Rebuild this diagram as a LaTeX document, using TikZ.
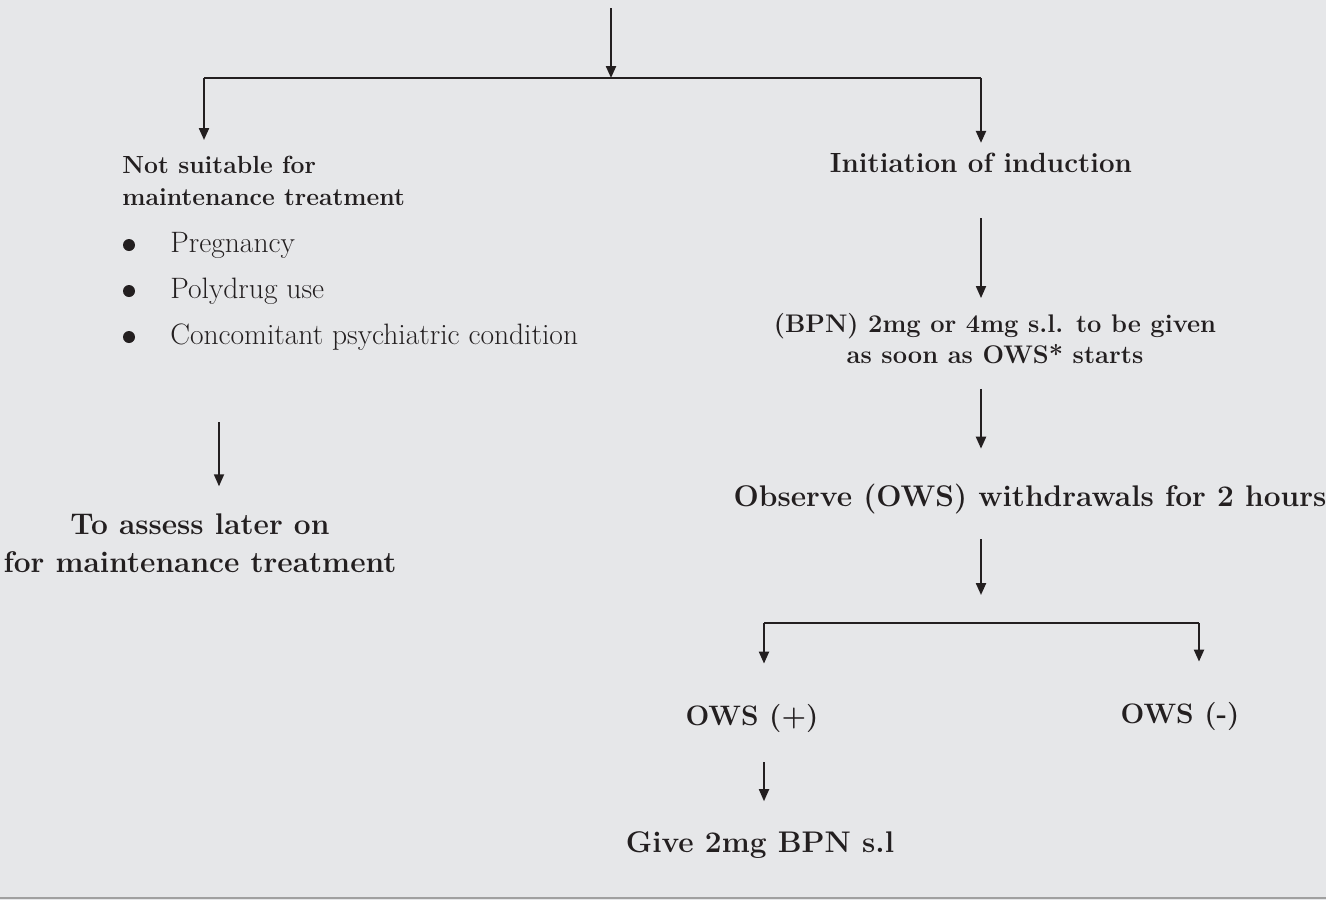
\documentclass[tikz,border=0pt]{standalone}
\usepackage{tikz}
\usetikzlibrary{positioning,arrows.meta}
\definecolor{panel}{RGB}{230,231,233}
\definecolor{ink}{RGB}{35,31,32}
\definecolor{rule}{RGB}{160,160,160}
\tikzset{head/.style={font=\fontsize{14.5}{17.5}\selectfont\bfseries,text=ink,inner sep=0pt,align=center}}
\tikzset{big/.style={font=\fontsize{17}{21.5}\selectfont\bfseries,text=ink,inner sep=0pt,align=center}}
\tikzset{item/.style={font=\fontsize{16.8}{18}\selectfont,text=ink,inner sep=0pt,anchor=base west}}
\tikzset{dot/.style={circle,fill=ink,inner sep=0pt,minimum size=0.24cm}}
\tikzset{link/.style={draw=ink,line width=1.25pt}}

\begin{document}
\begin{tikzpicture}[>={Triangle[length=0.24cm,width=0.2cm]}]
    \fill[panel] (0,0) rectangle (26.52,-18);
    \useasboundingbox (0,0) rectangle (26.52,-18);

    \coordinate (start) at (12.22,-0.16);
    \coordinate (split) at (12.22,-1.56);
    \coordinate (lsplit) at (4.08,-1.56);
    \coordinate (rsplit) at (19.62,-1.56);

    \node[head,font=\fontsize{14.1}{18.2}\selectfont\bfseries,anchor=north west,align=left] (unsuit) at (2.44,-3.12) {Not suitable for\\maintenance treatment};
    \node[dot] (d1) at (2.58,-4.9) {};
    \node[dot] (d2) at (2.58,-5.82) {};
    \node[dot] (d3) at (2.58,-6.74) {};
    \node[item] (preg) at (3.4,-5.04) {Pregnancy};
    \node[item] (poly) at (3.4,-5.96) {Polydrug use};
    \node[item] (psych) at (3.4,-6.88) {Concomitant psychiatric condition};
    \coordinate (lx) at (4.38,-8.44);
    \node[big] (later) at (4.0,-10.86) {To assess later on\\for maintenance treatment};

    \node[head,font=\fontsize{15.8}{19}\selectfont\bfseries] (init) at (19.62,-3.26) {Initiation of induction};
    \node[head] (bpn) at (19.9,-6.77) {(BPN) 2mg or 4mg s.l. to be given\\as soon as OWS* starts};
    \node[big] (obs) at (20.6,-9.98) {Observe (OWS) withdrawals for 2 hours};
    \coordinate (bl) at (15.28,-12.46);
    \coordinate (br) at (23.98,-12.46);
    \node[big,font=\fontsize{16}{20}\selectfont\bfseries] (owsp) at (15.04,-14.36) {OWS (+)};
    \node[big,font=\fontsize{16}{20}\selectfont\bfseries] (owsm) at (23.6,-14.32) {OWS (-)};
    \node[big] (give) at (15.2,-16.9) {Give 2mg BPN s.l};

    % top branch
    \draw[link,->] (start) -- (split);
    \draw[link] (lsplit) -- (rsplit);
    \draw[link,->,shorten >=0.32cm] (lsplit) -- (lsplit |- unsuit.north);
    \draw[link,->,shorten >=0.2cm] (rsplit) -- (rsplit |- init.north);

    % left column
    \draw[link,->,line width=1pt,shorten >=0.54cm] (lx) -- (lx |- later.north);

    % right column
    \draw[link,->,line width=1pt,shorten <=0.9cm,shorten >=0.3cm] (init.south) -- (init.south |- bpn.north);
    \draw[link,->,shorten <=0.5cm,shorten >=0.7cm] (bpn.south -| init) -- (init |- obs.north);
    \draw[link,->,shorten <=0.5cm,shorten >=0.56cm] (obs.south -| init) -- (init |- bl);
    \draw[link] (bl) -- (br);
    \draw[link,->,shorten >=0.8cm] (bl) -- (bl |- owsp.north);
    \draw[link,->,shorten >=0.8cm] (br) -- (br |- owsm.north);
    \draw[link,->,line width=1pt,shorten <=0.6cm,shorten >=0.6cm] (owsp.south -| bl) -- (bl |- give.north);

    \draw[rule,line width=1.2pt] (0,-17.96) -- (26.52,-17.96);
\end{tikzpicture}
\end{document}
